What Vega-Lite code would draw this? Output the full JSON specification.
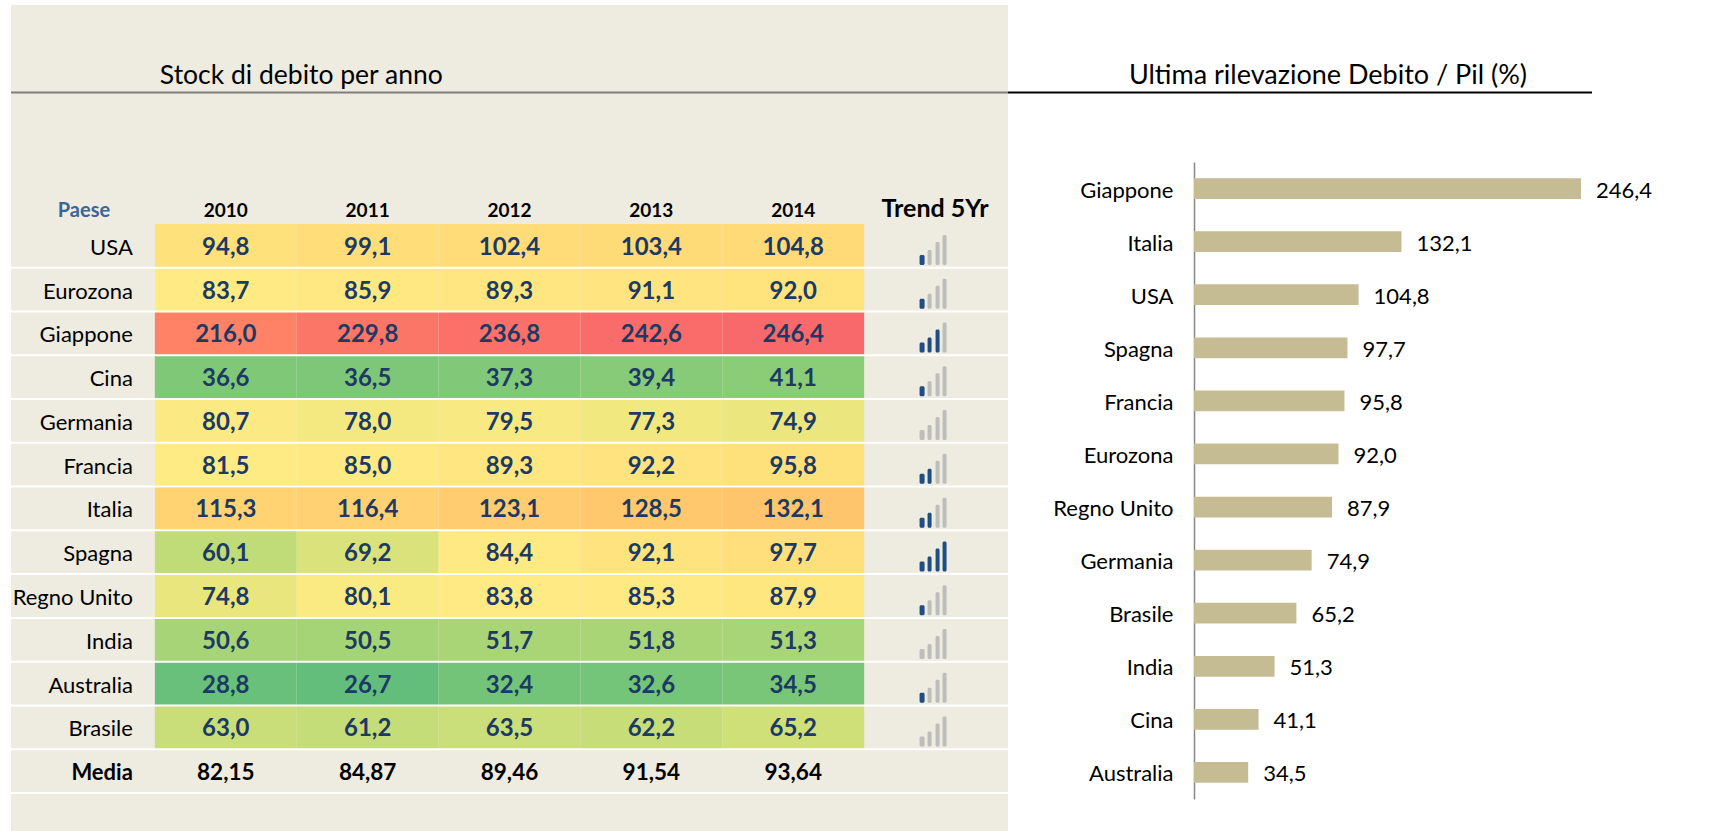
{
"$schema":"https://vega.github.io/schema/vega-lite/v6.json",
"padding":{"left":10,"top":5,"right":0,"bottom":0},
"background":"#ffffff",
"spacing":0,
"bounds":"flush",
"config":{"view":{"stroke":null},"font":"Lato","locale":{"number":{"decimal":",","thousands":".","grouping":[3],"currency":["","€"]}}},
"datasets":{
"celle":[
{"paese":"USA","anno":"2010","valore":94.8},{"paese":"USA","anno":"2011","valore":99.1},{"paese":"USA","anno":"2012","valore":102.4},{"paese":"USA","anno":"2013","valore":103.4},{"paese":"USA","anno":"2014","valore":104.8},
{"paese":"Eurozona","anno":"2010","valore":83.7},{"paese":"Eurozona","anno":"2011","valore":85.9},{"paese":"Eurozona","anno":"2012","valore":89.3},{"paese":"Eurozona","anno":"2013","valore":91.1},{"paese":"Eurozona","anno":"2014","valore":92.0},
{"paese":"Giappone","anno":"2010","valore":216.0},{"paese":"Giappone","anno":"2011","valore":229.8},{"paese":"Giappone","anno":"2012","valore":236.8},{"paese":"Giappone","anno":"2013","valore":242.6},{"paese":"Giappone","anno":"2014","valore":246.4},
{"paese":"Cina","anno":"2010","valore":36.6},{"paese":"Cina","anno":"2011","valore":36.5},{"paese":"Cina","anno":"2012","valore":37.3},{"paese":"Cina","anno":"2013","valore":39.4},{"paese":"Cina","anno":"2014","valore":41.1},
{"paese":"Germania","anno":"2010","valore":80.7},{"paese":"Germania","anno":"2011","valore":78.0},{"paese":"Germania","anno":"2012","valore":79.5},{"paese":"Germania","anno":"2013","valore":77.3},{"paese":"Germania","anno":"2014","valore":74.9},
{"paese":"Francia","anno":"2010","valore":81.5},{"paese":"Francia","anno":"2011","valore":85.0},{"paese":"Francia","anno":"2012","valore":89.3},{"paese":"Francia","anno":"2013","valore":92.2},{"paese":"Francia","anno":"2014","valore":95.8},
{"paese":"Italia","anno":"2010","valore":115.3},{"paese":"Italia","anno":"2011","valore":116.4},{"paese":"Italia","anno":"2012","valore":123.1},{"paese":"Italia","anno":"2013","valore":128.5},{"paese":"Italia","anno":"2014","valore":132.1},
{"paese":"Spagna","anno":"2010","valore":60.1},{"paese":"Spagna","anno":"2011","valore":69.2},{"paese":"Spagna","anno":"2012","valore":84.4},{"paese":"Spagna","anno":"2013","valore":92.1},{"paese":"Spagna","anno":"2014","valore":97.7},
{"paese":"Regno Unito","anno":"2010","valore":74.8},{"paese":"Regno Unito","anno":"2011","valore":80.1},{"paese":"Regno Unito","anno":"2012","valore":83.8},{"paese":"Regno Unito","anno":"2013","valore":85.3},{"paese":"Regno Unito","anno":"2014","valore":87.9},
{"paese":"India","anno":"2010","valore":50.6},{"paese":"India","anno":"2011","valore":50.5},{"paese":"India","anno":"2012","valore":51.7},{"paese":"India","anno":"2013","valore":51.8},{"paese":"India","anno":"2014","valore":51.3},
{"paese":"Australia","anno":"2010","valore":28.8},{"paese":"Australia","anno":"2011","valore":26.7},{"paese":"Australia","anno":"2012","valore":32.4},{"paese":"Australia","anno":"2013","valore":32.6},{"paese":"Australia","anno":"2014","valore":34.5},
{"paese":"Brasile","anno":"2010","valore":63.0},{"paese":"Brasile","anno":"2011","valore":61.2},{"paese":"Brasile","anno":"2012","valore":63.5},{"paese":"Brasile","anno":"2013","valore":62.2},{"paese":"Brasile","anno":"2014","valore":65.2}
],
"media":[{"paese":"Media","anno":"2010","valore":82.15},{"paese":"Media","anno":"2011","valore":84.87},{"paese":"Media","anno":"2012","valore":89.46},{"paese":"Media","anno":"2013","valore":91.54},{"paese":"Media","anno":"2014","valore":93.64}],
"trend":[{"paese":"USA","livello":1},{"paese":"Eurozona","livello":1},{"paese":"Giappone","livello":3},{"paese":"Cina","livello":1},{"paese":"Germania","livello":0},{"paese":"Francia","livello":2},{"paese":"Italia","livello":2},{"paese":"Spagna","livello":4},{"paese":"Regno Unito","livello":1},{"paese":"India","livello":0},{"paese":"Australia","livello":1},{"paese":"Brasile","livello":0}],
"righe":[{"paese":"USA"},{"paese":"Eurozona"},{"paese":"Giappone"},{"paese":"Cina"},{"paese":"Germania"},{"paese":"Francia"},{"paese":"Italia"},{"paese":"Spagna"},{"paese":"Regno Unito"},{"paese":"India"},{"paese":"Australia"},{"paese":"Brasile"},{"paese":"Media"}],
"anni":[{"anno":"2010"},{"anno":"2011"},{"anno":"2012"},{"anno":"2013"},{"anno":"2014"}],
"ultima":[{"paese":"Giappone","valore":246.4},{"paese":"Italia","valore":132.1},{"paese":"USA","valore":104.8},{"paese":"Spagna","valore":97.7},{"paese":"Francia","valore":95.8},{"paese":"Eurozona","valore":92.0},{"paese":"Regno Unito","valore":87.9},{"paese":"Germania","valore":74.9},{"paese":"Brasile","valore":65.2},{"paese":"India","valore":51.3},{"paese":"Cina","valore":41.1},{"paese":"Australia","valore":34.5}]
},
"hconcat":[
{
"width":997,"height":826,
"view":{"fill":"#EEEBE0","stroke":null},
"encoding":{
"x":{"field":"anno","type":"nominal","axis":null,"scale":{"type":"band","domain":["Paese","2010","2011","2012","2013","2014","Trend 5Yr"],"paddingInner":0,"paddingOuter":0.0141}},
"y":{"field":"paese","type":"nominal","axis":null,"scale":{"type":"band","domain":["r0","titolo","r2","r3","Paese","USA","Eurozona","Giappone","Cina","Germania","Francia","Italia","Spagna","Regno Unito","India","Australia","Brasile","Media"],"range":[0,788],"paddingInner":0,"paddingOuter":0}}
},
"layer":[
{"data":{"name":"celle"},"mark":{"type":"rect"},"encoding":{"color":{"field":"valore","type":"quantitative","legend":null,"scale":{"type":"linear","domain":[26.7,82,246.4],"range":["#63BE7B","#FFEB84","#F8696B"]}}}},
{"data":{"name":"righe"},"mark":{"type":"rule","color":"#ffffff","strokeWidth":2},"encoding":{"x":null,"y":{"field":"paese","type":"nominal","bandPosition":1}}},
{"data":{"values":[{"paese":"titolo"}]},"mark":{"type":"rule","color":"#7F7F7F","strokeWidth":2},"encoding":{"x":null,"y":{"field":"paese","type":"nominal","bandPosition":1}}},
{"data":{"values":[{"paese":"titolo","testo":"Stock di debito per anno"}]},"mark":{"type":"text","align":"left","baseline":"middle","fontSize":26.5,"font":"Lato","dx":5,"dy":5,"color":"#000000"},"encoding":{"x":{"datum":"2010","bandPosition":0},"text":{"field":"testo"}}},
{"data":{"values":[{"paese":"Paese","testo":"Paese"}]},"mark":{"type":"text","fontSize":20,"fontWeight":"bold","font":"Lato","dy":9,"color":"#3A6599"},"encoding":{"x":{"datum":"Paese"},"text":{"field":"testo"}}},
{"data":{"name":"anni"},"transform":[{"calculate":"'Paese'","as":"paese"}],"mark":{"type":"text","fontSize":19,"fontWeight":"bold","font":"Lato","dy":9,"color":"#000000"},"encoding":{"text":{"field":"anno"}}},
{"data":{"values":[{"paese":"Paese","testo":"Trend 5Yr"}]},"mark":{"type":"text","fontSize":25,"fontWeight":"bold","font":"Lato","dy":7,"color":"#000000"},"encoding":{"x":{"datum":"Trend 5Yr"},"text":{"field":"testo"}}},
{"data":{"name":"trend"},"mark":{"type":"text","align":"right","fontSize":22,"font":"Lato","dx":-22,"dy":2,"color":"#000000"},"encoding":{"x":{"datum":"Paese","bandPosition":1},"text":{"field":"paese"}}},
{"data":{"values":[{"paese":"Media","testo":"Media"}]},"mark":{"type":"text","align":"right","fontSize":22,"fontWeight":"bold","font":"Lato","dx":-22,"dy":2,"color":"#000000"},"encoding":{"x":{"datum":"Paese","bandPosition":1},"text":{"field":"testo"}}},
{"data":{"name":"celle"},"mark":{"type":"text","fontSize":24,"fontWeight":"bold","font":"Lato","dy":2,"color":"#1C3A63"},"encoding":{"text":{"field":"valore","type":"quantitative","format":".1f"}}},
{"data":{"name":"media"},"mark":{"type":"text","fontSize":22.5,"fontWeight":"bold","font":"Lato","dy":2,"color":"#000000"},"encoding":{"text":{"field":"valore","type":"quantitative","format":".2f"}}},
{"data":{"name":"trend"},"mark":{"type":"rect","width":5,"height":10,"xOffset":-13,"yOffset":14.2,"cornerRadius":1.5},"encoding":{"x":{"datum":"Trend 5Yr"},"color":{"condition":{"test":"datum.livello>=1","value":"#1F4E85"},"value":"#BDBDBA"}}},
{"data":{"name":"trend"},"mark":{"type":"rect","width":4,"height":15,"xOffset":-5.5,"yOffset":11.7,"cornerRadius":1.5},"encoding":{"x":{"datum":"Trend 5Yr"},"color":{"condition":{"test":"datum.livello>=2","value":"#1F4E85"},"value":"#BDBDBA"}}},
{"data":{"name":"trend"},"mark":{"type":"rect","width":4,"height":23,"xOffset":2.5,"yOffset":7.7,"cornerRadius":1.5},"encoding":{"x":{"datum":"Trend 5Yr"},"color":{"condition":{"test":"datum.livello>=3","value":"#1F4E85"},"value":"#BDBDBA"}}},
{"data":{"name":"trend"},"mark":{"type":"rect","width":4,"height":30,"xOffset":9.5,"yOffset":4.2,"cornerRadius":1.5},"encoding":{"x":{"datum":"Trend 5Yr"},"color":{"condition":{"test":"datum.livello>=4","value":"#1F4E85"},"value":"#BDBDBA"}}}
]
},
{
"width":584,"height":826,
"resolve":{"scale":{"y":"independent"},"axis":{"y":"independent"}},
"layer":[
{"data":{"values":[{"riga":"titolo"}]},"mark":{"type":"rule","color":"#000000","strokeWidth":2},"encoding":{"y":{"field":"riga","type":"nominal","bandPosition":1,"axis":null,"scale":{"type":"band","domain":["r0","titolo","r2","r3","Paese","USA","Eurozona","Giappone","Cina","Germania","Francia","Italia","Spagna","Regno Unito","India","Australia","Brasile","Media"],"range":[0,788]}}}},
{"data":{"values":[{"riga":"titolo","testo":"Ultima rilevazione Debito / Pil (%)"}]},"mark":{"type":"text","fontSize":27,"font":"Lato","dy":5,"color":"#000000"},"encoding":{"x":{"datum":85.3,"type":"quantitative","axis":null,"scale":{"domain":[-118.42,253.4],"nice":false,"zero":false}},"y":{"field":"riga","type":"nominal","axis":null,"scale":{"type":"band","domain":["r0","titolo","r2","r3","Paese","USA","Eurozona","Giappone","Cina","Germania","Francia","Italia","Spagna","Regno Unito","India","Australia","Brasile","Media"],"range":[0,788]}},"text":{"field":"testo"}}},
{"data":{"name":"ultima"},"encoding":{
"x":{"field":"valore","type":"quantitative","axis":null,"stack":null,"scale":{"domain":[-118.42,253.4],"nice":false,"zero":false}},
"y":{"field":"paese","type":"nominal","sort":null,"title":null,"scale":{"type":"band","domain":["Giappone","Italia","USA","Spagna","Francia","Eurozona","Regno Unito","Germania","Brasile","India","Cina","Australia"],"range":[157,794],"paddingInner":0.61,"paddingOuter":0.305},"axis":{"orient":"left","offset":-186,"ticks":false,"grid":false,"domainColor":"#868686","domainWidth":1.5,"labelFont":"Lato","labelFontSize":22,"labelColor":"#000000","labelPadding":21,"labelOffset":2}}
},
"layer":[
{"mark":{"type":"bar","color":"#C5BC94"}},
{"mark":{"type":"text","align":"left","dx":15,"dy":2,"fontSize":22,"font":"Lato","color":"#000000"},"encoding":{"text":{"field":"valore","type":"quantitative","format":".1f"}}}
]}
]
}
]
}
